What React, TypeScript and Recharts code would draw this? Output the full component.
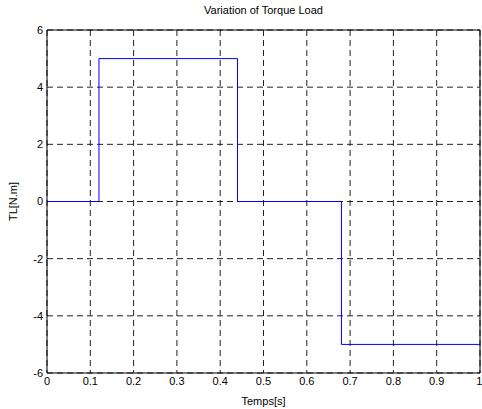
import React from "react";
import {
  LineChart,
  Line,
  CartesianGrid,
  XAxis,
  YAxis,
  ReferenceLine,
  Label,
} from "recharts";

// switching instants [s] and load torque after each one [N.m]
const times = [0, 0.12, 0.44, 0.68, 1];
const torque = [0, 5, 0, -5, -5];
const xTicks = [0, 0.1, 0.2, 0.3, 0.4, 0.5, 0.6, 0.7, 0.8, 0.9, 1];
const yTicks = [-6, -4, -2, 0, 2, 4, 6];

const data = times.map((t, i) => ({ t, tl: torque[i] }));

const font = "'Liberation Sans', Arial, sans-serif";
const tickStyle = { fontSize: 11, fill: "#000", fontFamily: font };

const App: React.FC = () => {
  return (
    <div style={{ position: "absolute", left: 0, top: 0, width: 482, height: 409, background: "#fff" }}>
      <div
        style={{
          position: "absolute",
          left: 47,
          width: 433,
          top: 4,
          textAlign: "center",
          fontFamily: font,
          fontSize: 11,
          color: "#000",
        }}
      >
        Variation of Torque Load
      </div>
      <LineChart width={482} height={409} data={data} margin={{ top: 30, right: 2, bottom: 0, left: 0 }}>
        <CartesianGrid stroke="#222" strokeDasharray="6 4" strokeWidth={1} />
        <XAxis
          dataKey="t"
          type="number"
          domain={[0, 1]}
          ticks={xTicks}
          tickLine={false}
          tickSize={0}
          tickMargin={4}
          height={36}
          stroke="#000"
          tick={tickStyle}
          tickFormatter={(v: number) => String(v)}
        >
          <Label value="Temps[s]" position="insideBottom" offset={4} style={tickStyle} />
        </XAxis>
        <YAxis
          type="number"
          domain={[-6, 6]}
          ticks={yTicks}
          tickLine={false}
          tickSize={0}
          tickMargin={4}
          width={47}
          stroke="#000"
          tick={tickStyle}
        >
          <Label
            content={(props: any) => {
              const vb = props.viewBox || { x: 0, y: 30, width: 47, height: 343 };
              const cx = vb.x + 13;
              const cy = vb.y + vb.height / 2;
              return (
                <text
                  x={cx}
                  y={cy}
                  transform={`rotate(-90 ${cx} ${cy})`}
                  textAnchor="middle"
                  dominantBaseline="central"
                  style={tickStyle}
                >
                  TL[N.m]
                </text>
              );
            }}
          />
        </YAxis>
        <ReferenceLine x={1} stroke="#000" strokeWidth={1} />
        <ReferenceLine y={6} stroke="#000" strokeWidth={1} />
        <Line
          type="stepAfter"
          dataKey="tl"
          stroke="#0000ff"
          strokeWidth={1}
          dot={false}
          isAnimationActive={false}
        />
      </LineChart>
    </div>
  );
};

export default App;
